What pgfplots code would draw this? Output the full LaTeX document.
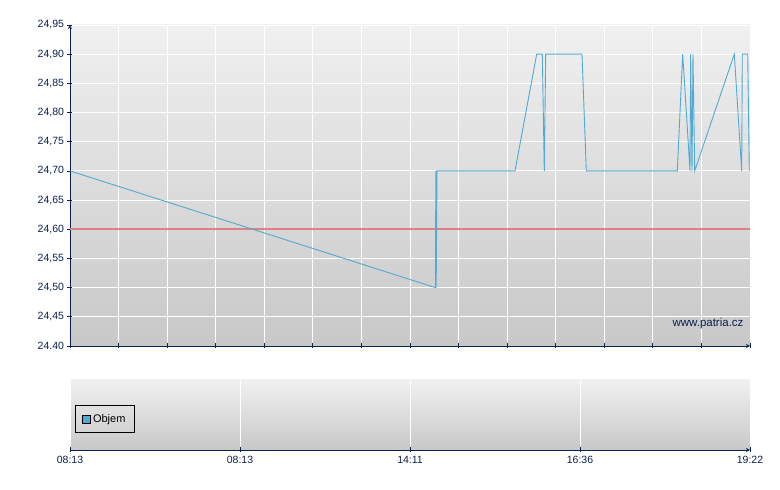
\documentclass[border=0pt]{standalone}
\usepackage{pgfplots}
\pgfplotsset{compat=1.18}
\usepackage{fontspec}
\setmainfont{Liberation Sans}
\definecolor{navy}{RGB}{10,30,80}
\definecolor{lineblue}{RGB}{80,170,210}
\definecolor{avgline}{RGB}{224,128,132}
\definecolor{bgtop}{RGB}{240,240,240}
\definecolor{bgbot}{RGB}{200,200,200}

\pgfplotsset{
  patria/.style={
    scale only axis, width=680pt, xmin=0, xmax=680,
    axis line style={draw=navy, line width=0.8pt, -},
    tick style={draw=navy, line width=0.8pt},
    major tick length=5pt, tick align=outside,
    ticklabel style={font=\fontsize{10.5}{12}\selectfont, text=navy},
    major grid style={white, line width=0.9pt},
    axis background/.style={top color=bgtop, bottom color=bgbot},
    /pgf/number format/assume math mode=true,
  }
}

\begin{document}
\begin{tikzpicture}[x=1pt,y=1pt]
\path[use as bounding box] (0,0) rectangle (780,490);

% price panel
\begin{axis}[patria,
  at={(70pt,144pt)}, anchor=south west, height=321pt,
  ymin=24.40, ymax=24.95,
  axis x line=bottom, axis y line=left,
  xtick={0,48.5714,97.1429,145.7143,194.2857,242.8571,291.4286,340,388.5714,437.1429,485.7143,534.2857,582.8571,631.4286,680},
  xticklabels={},
  ytick={24.40,24.45,24.50,24.55,24.60,24.65,24.70,24.75,24.80,24.85,24.90,24.95},
  yticklabels={24.40,{24,45},{24,50},{24,55},{24,60},{24,65},{24,70},{24,75},{24,80},{24,85},{24,90},{24,95}},
  grid=major,
  clip=false,
]
\addplot[draw=avgline, line width=1.6pt] coordinates {(0,24.60) (680,24.60)};
\addplot[draw=lineblue, line width=0.9pt] coordinates {
(0,24.70)
(365.5,24.50)
(365.8,24.70)
(366.2,24.50)
(367,24.70)
(445,24.70)
(466.7,24.90)
(472.3,24.90)
(474.3,24.70)
(475.7,24.90)
(512,24.90)
(516.3,24.70)
(607.3,24.70)
(612.7,24.90)
(620,24.70)
(620.7,24.90)
(622,24.70)
(623,24.90)
(624.7,24.70)
(664.3,24.90)
(671.7,24.70)
(672.3,24.90)
(673.3,24.90)
(677.7,24.90)
(679.3,24.70)
};
\node[text=navy, font=\fontsize{11.5}{13}\selectfont] at (axis cs:638,24.439) {www.patria.cz};
\end{axis}

% volume panel
\begin{axis}[patria,
  at={(70pt,40pt)}, anchor=south west, height=70pt,
  ymin=0, ymax=1,
  axis x line=bottom, axis y line=none,
  xtick={0,170,340,510,680},
  xticklabels={08:13,08:13,14:11,16:36,19:22},
  ytick=\empty,
  xmajorgrids,
  legend style={at={(rel axis cs:0.0074,0.243)}, anchor=south west,
    draw=black, fill=none, line width=0.8pt, font=\fontsize{11}{13}\selectfont,
    inner xsep=7pt, inner ysep=7pt},
  legend image code/.code={\draw[fill=lineblue, draw=black, line width=0.6pt] (0pt,-4pt) rectangle (8pt,4pt);},
]
\addlegendimage{}
\addlegendentry{Objem}
\end{axis}
\end{tikzpicture}
\end{document}
